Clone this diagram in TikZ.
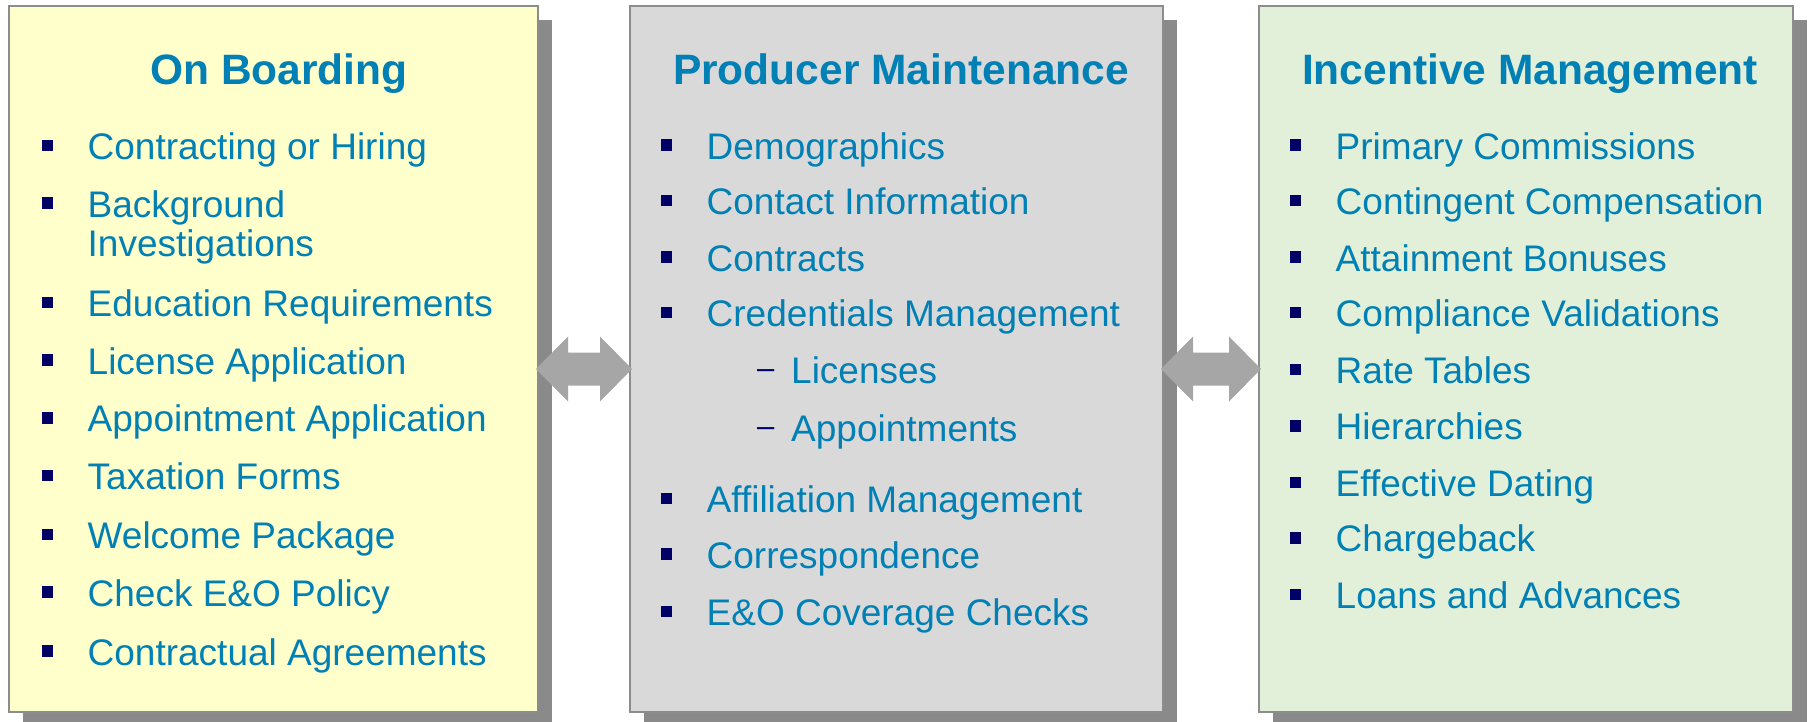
\documentclass[tikz,border=0pt]{standalone}
\usepackage{fontspec}
\setmainfont{Liberation Sans}
\usetikzlibrary{calc,shadows}
\definecolor{txt}{RGB}{0,128,180}
\definecolor{bulc}{RGB}{0,0,102}
\definecolor{fyel}{RGB}{255,255,204}
\definecolor{fgry}{RGB}{217,217,217}
\definecolor{fgrn}{RGB}{226,240,217}
\definecolor{edgec}{RGB}{140,140,140}
\definecolor{shd}{RGB}{138,138,138}
\definecolor{arrc}{RGB}{166,166,166}
\newcommand\bitem[4]{%
  \node[bul] (#1b) at (#2-40,#3-14) {};
  \node[itm] (#1) at (#2,#3) {#4};}
\newcommand\sitem[4]{%
  \node[dsh] (#1d) at (#2-34,#3-4.5) {–};
  \node[itm] (#1) at (#2,#3) {#4};}
\newcommand\dblarrow[2]{%
  \fill[arrshape] ($(#1.east)+(-2,10)$) -- ($(#1.east)+(30,-22.5)$) -- ($(#1.east)+(30,-6.5)$)
   -- ($(#2.west)+(-30,-6.5)$) -- ($(#2.west)+(-30,-22.5)$) -- ($(#2.west)+(2,10)$)
   -- ($(#2.west)+(-30,42.5)$) -- ($(#2.west)+(-30,26.5)$) -- ($(#1.east)+(30,26.5)$)
   -- ($(#1.east)+(30,42.5)$) -- cycle;}
\begin{document}
\begin{tikzpicture}[x=1pt,y=-1pt,
  panel/.style={draw=edgec, line width=1.5pt, inner sep=0pt, outer sep=0pt,
    minimum height=706pt,
    drop shadow={shadow xshift=14pt, shadow yshift=-14pt, fill=shd, opacity=1}},
  ttl/.style={text=txt, inner sep=0pt, anchor=base, font=\fontsize{42.5pt}{50pt}\selectfont\bfseries},
  itm/.style={text=txt, inner sep=0pt, anchor=base west, font=\fontsize{37pt}{44pt}\selectfont},
  bul/.style={fill=bulc, inner sep=0pt, minimum size=11.5pt, outer sep=0pt},
  dsh/.style={text=bulc, inner sep=0pt, anchor=base west, font=\fontsize{31pt}{36pt}\selectfont},
  arrshape/.style={fill=arrc}]
\useasboundingbox (0,0) rectangle (1811,722);
\fill[white] (0,0) rectangle (1811,722);
% panels
\node[panel, fill=fyel, minimum width=529pt] (b1) at (273.5,359) {};
\node[panel, fill=fgry, minimum width=533pt] (b2) at (896.5,359) {};
\node[panel, fill=fgrn, minimum width=534pt] (b3) at (1526,359) {};
% arrows
\dblarrow{b1}{b2}
\dblarrow{b2}{b3}
% titles
\node[ttl] (t1) at (279,84.5) {On Boarding};
\node[ttl] (t2) at (901,84.5) {Producer Maintenance};
\node[ttl] (t3) at (1530,84.5) {Incentive Management};
% column 1
\bitem{a1}{87.5}{159.3}{Contracting or Hiring}
\bitem{a2}{87.5}{217}{Background}
\node[itm] (a2x) at (87.5,256.2) {Investigations};
\bitem{a3}{87.5}{316.3}{Education Requirements}
\bitem{a4}{87.5}{374}{License Application}
\bitem{a5}{87.5}{431.8}{Appointment Application}
\bitem{a6}{87.5}{489.5}{Taxation Forms}
\bitem{a7}{87.5}{548.5}{Welcome Package}
\bitem{a8}{87.5}{606.2}{Check E\&O Policy}
\bitem{a9}{87.5}{665}{Contractual Agreements}
% column 2
\bitem{c1}{706.5}{159.2}{Demographics}
\bitem{c2}{706.5}{214.6}{Contact Information}
\bitem{c3}{706.5}{271.2}{Contracts}
\bitem{c4}{706.5}{326.6}{Credentials Management}
\sitem{c5}{791}{383.3}{Licenses}
\sitem{c6}{791}{441}{Appointments}
\bitem{c7}{706.5}{512.5}{Affiliation Management}
\bitem{c8}{706.5}{568.1}{Correspondence}
\bitem{c9}{706.5}{625.5}{E\&O Coverage Checks}
% column 3
\bitem{e1}{1335.5}{159.2}{Primary Commissions}
\bitem{e2}{1335.5}{214.6}{Contingent Compensation}
\bitem{e3}{1335.5}{271.2}{Attainment Bonuses}
\bitem{e4}{1335.5}{326.6}{Compliance Validations}
\bitem{e5}{1335.5}{383.3}{Rate Tables}
\bitem{e6}{1335.5}{439.8}{Hierarchies}
\bitem{e7}{1335.5}{496.4}{Effective Dating}
\bitem{e8}{1335.5}{551.9}{Chargeback}
\bitem{e9}{1335.5}{608.5}{Loans and Advances}
\end{tikzpicture}
\end{document}
